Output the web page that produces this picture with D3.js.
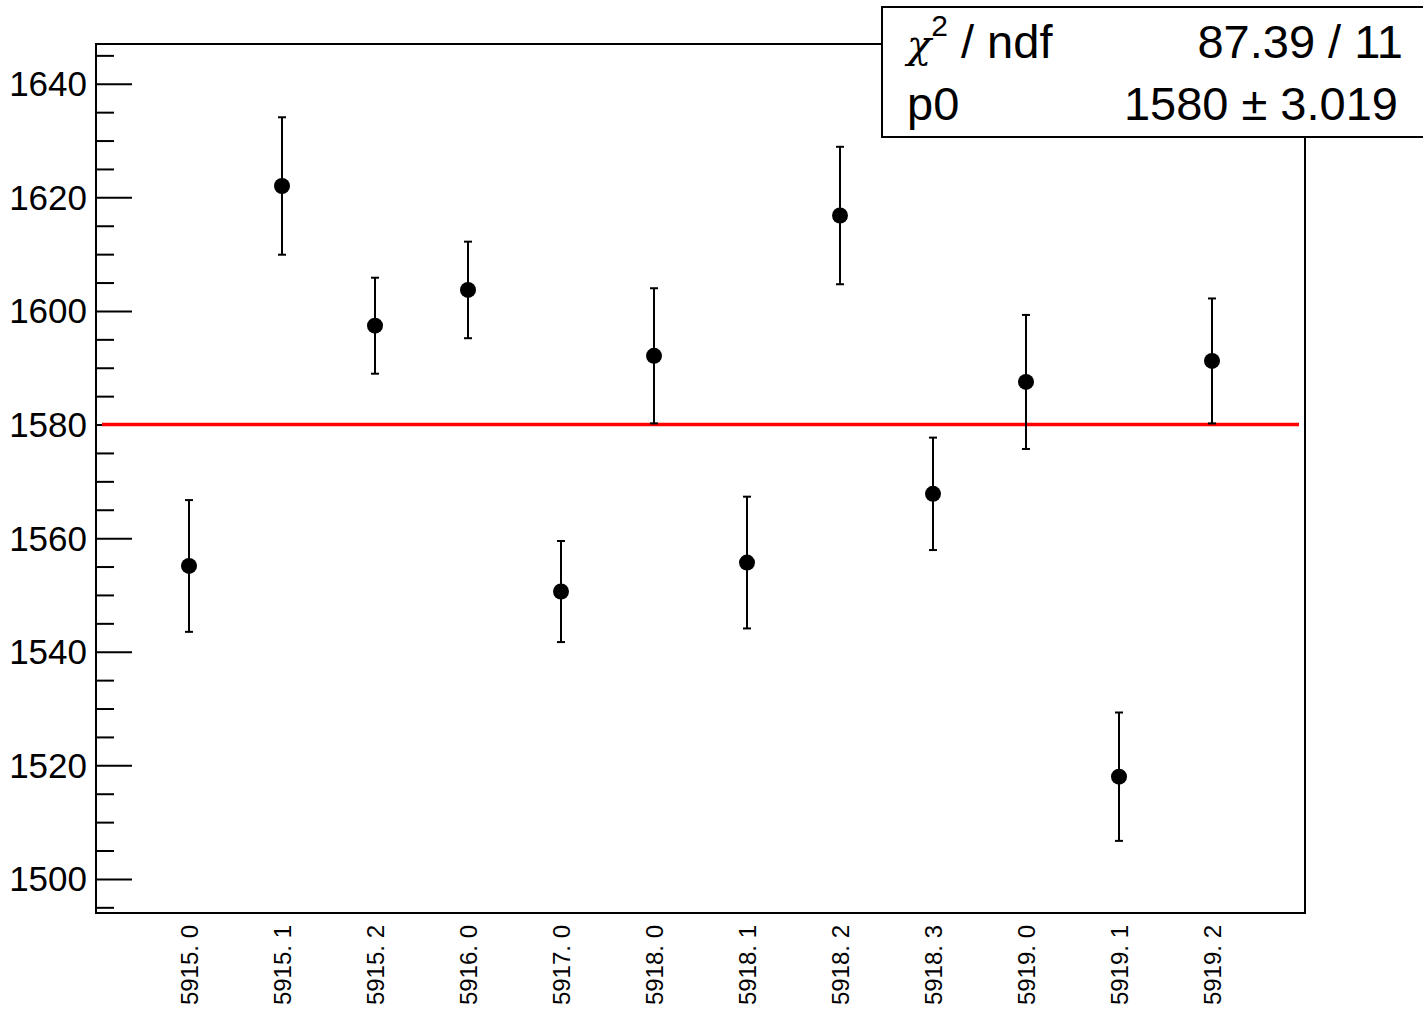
<!DOCTYPE html>
<html>
<head>
<meta charset="utf-8">
<script src="https://cdn.jsdelivr.net/npm/d3@7"></script>
<style>
  html, body { margin: 0; padding: 0; background: #fff; }
  svg { display: block; font-family: "Liberation Sans", Arial, sans-serif; }
</style>
</head>
<body>
<svg id="chart" width="1423" height="1011"></svg>
<script>
const categories = ["5915. 0","5915. 1","5915. 2","5916. 0","5917. 0","5918. 0","5918. 1","5918. 2","5918. 3","5919. 0","5919. 1","5919. 2"];
const values = [1555.1, 1622.0, 1597.4, 1603.7, 1550.6, 1592.1, 1555.7, 1616.8, 1567.8, 1587.5, 1518.0, 1591.2];
const errors = [11.6, 12.1, 8.45, 8.5, 8.9, 11.9, 11.6, 12.1, 9.9, 11.8, 11.3, 11.0];
const yMajorTicks = [1500, 1520, 1540, 1560, 1580, 1600, 1620, 1640];
const yMinorTicks = d3.range(1495, 1647, 5).filter(v => v % 20 !== 0);
const fitValue = 1580;
const statsLabels = ["χ2 / ndf", "p0"];
const statsValues = ["87.39 / 11", "1580 ± 3.019"];

const svg = d3.select("#chart");
const L = 96, R = 1305, T = 44, B = 913;

const x = d3.scalePoint().domain(categories).range([L, R]).padding(1);
const y = d3.scaleLinear().domain([1494, 1647]).range([B, T]);

// frame
svg.append("rect").attr("x", L).attr("y", T).attr("width", R - L).attr("height", B - T)
  .attr("fill", "none").attr("stroke", "#000").attr("stroke-width", 2);

// y axis ticks (inward)
const gMaj = svg.append("g").attr("transform", `translate(${L},0)`)
  .call(d3.axisRight(y).tickValues(yMajorTicks).tickSize(36).tickFormat(""));
const gMin = svg.append("g").attr("transform", `translate(${L},0)`)
  .call(d3.axisRight(y).tickValues(yMinorTicks).tickSize(18).tickFormat(""));
[gMaj, gMin].forEach(g => {
  g.select(".domain").remove();
  g.selectAll("line").attr("stroke", "#000").attr("stroke-width", 2);
});

// y labels
svg.append("g").selectAll("text").data(yMajorTicks).join("text")
  .attr("x", 87).attr("y", d => y(d))
  .attr("text-anchor", "end").attr("dominant-baseline", "central")
  .attr("font-size", 35).attr("fill", "#000")
  .text(d => d);

// x labels rotated
svg.append("g").selectAll("text").data(categories).join("text")
  .attr("transform", d => `translate(${x(d)},925) rotate(-90)`)
  .attr("text-anchor", "end").attr("dominant-baseline", "central")
  .attr("font-size", 24).attr("fill", "#000")
  .text(d => d);

// fit line
svg.append("line")
  .attr("x1", L + 6).attr("x2", R - 6)
  .attr("y1", y(fitValue)).attr("y2", y(fitValue))
  .attr("stroke", "#ff0000").attr("stroke-width", 3.5);

// error bars
const pts = categories.map((c, i) => ({c, v: values[i], e: errors[i]}));
const gE = svg.append("g").attr("stroke", "#000").attr("stroke-width", 2);
gE.selectAll("line.v").data(pts).join("line").attr("class", "v")
  .attr("x1", d => x(d.c)).attr("x2", d => x(d.c))
  .attr("y1", d => y(d.v - d.e)).attr("y2", d => y(d.v + d.e));
gE.selectAll("line.t").data(pts).join("line").attr("class", "t")
  .attr("x1", d => x(d.c) - 4).attr("x2", d => x(d.c) + 4)
  .attr("y1", d => y(d.v + d.e)).attr("y2", d => y(d.v + d.e));
gE.selectAll("line.b").data(pts).join("line").attr("class", "b")
  .attr("x1", d => x(d.c) - 4).attr("x2", d => x(d.c) + 4)
  .attr("y1", d => y(d.v - d.e)).attr("y2", d => y(d.v - d.e));

// markers
svg.append("g").selectAll("circle").data(pts).join("circle")
  .attr("cx", d => x(d.c)).attr("cy", d => y(d.v)).attr("r", 8).attr("fill", "#000");

// stats box
const sb = svg.append("g");
sb.append("rect").attr("x", 882).attr("y", 7).attr("width", 560).attr("height", 130)
  .attr("fill", "#fff").attr("stroke", "#000").attr("stroke-width", 2);
const t1 = sb.append("text").attr("x", 907).attr("y", 58).attr("font-size", 47).attr("fill", "#000");
t1.append("tspan").attr("font-family", "'DejaVu Serif', serif").attr("font-style", "italic").attr("font-size", 40).text("χ");
t1.append("tspan").attr("font-size", 30).attr("dy", -22).text("2");
t1.append("tspan").attr("dy", 22).text(" / ndf");
sb.append("text").attr("x", 907).attr("y", 120).attr("font-size", 47).attr("fill", "#000").text(statsLabels[1]);
sb.append("text").attr("x", 1403).attr("y", 58).attr("font-size", 47).attr("text-anchor", "end").attr("fill", "#000").text(statsValues[0]);
sb.append("text").attr("x", 1398).attr("y", 120).attr("font-size", 47).attr("text-anchor", "end").attr("fill", "#000").text(statsValues[1]);
</script>
</body>
</html>
